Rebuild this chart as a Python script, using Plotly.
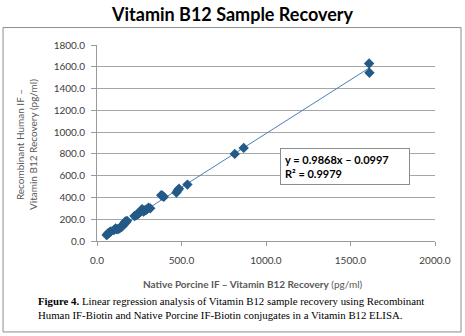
import plotly.graph_objects as go

# Data
native_x = [57, 62, 66, 70, 75, 82, 100, 110, 118, 128, 135, 142, 150, 158, 163, 168, 172, 178,
            222, 230, 238, 245, 252, 258, 262, 268, 275, 282, 290, 298, 305, 315,
            380, 388, 395, 470, 478, 485, 535, 815, 868, 1610, 1612]
recomb_y = [55, 62, 70, 75, 80, 88, 100, 115, 108, 112, 118, 128, 135, 150, 168, 180, 172, 185,
            230, 235, 245, 250, 262, 272, 285, 292, 270, 280, 285, 295, 305, 300,
            420, 415, 405, 445, 465, 480, 518, 800, 855, 1630, 1545]
slope = 0.9868
intercept = -0.0997
r2 = 0.9979
x_ticks = [0, 500, 1000, 1500, 2000]
y_ticks = [0, 200, 400, 600, 800, 1000, 1200, 1400, 1600, 1800]

trend_x = [min(native_x), max(native_x)]
trend_y = [slope * v + intercept for v in trend_x]

FONT = "Lato"
GRAY = "#595959"

fig = go.Figure()
fig.add_trace(go.Scatter(x=trend_x, y=trend_y, mode="lines",
                         line=dict(color="#4A7EBB", width=1), hoverinfo="skip"))
fig.add_trace(go.Scatter(x=native_x, y=recomb_y, mode="markers",
                         marker=dict(symbol="diamond", size=8, color="#235A87",
                                     line=dict(width=0))))

fig.update_layout(
    width=465, height=336,
    margin=dict(l=97, r=30, t=44.5, b=94.5),
    paper_bgcolor="white", plot_bgcolor="white",
    showlegend=False,
    font=dict(family=FONT, size=10, color=GRAY),
    xaxis=dict(range=[0, 2000], tickvals=x_ticks,
               ticktext=[f"{v:.1f}" for v in x_ticks],
               showgrid=False, zeroline=False,
               showline=True, linecolor="#9A9A9A", linewidth=1,
               ticks="outside", ticklen=4, tickcolor="#9A9A9A",
               ticklabelstandoff=6,
               tickfont=dict(family=FONT, size=10, color="#404040")),
    yaxis=dict(range=[0, 1800], tickvals=y_ticks,
               ticktext=[f"{v:.1f}" for v in y_ticks],
               showgrid=True, gridcolor="#A6A6A6", gridwidth=1,
               zeroline=False,
               showline=True, linecolor="#9A9A9A", linewidth=1,
               ticks="outside", ticklen=5, tickcolor="#9A9A9A",
               ticklabelstandoff=4,
               tickfont=dict(family=FONT, size=10, color="#404040")),
)

anns = [
    dict(text="<b>Vitamin B12 Sample Recovery</b>", x=0.4, y=1.157, xref="paper", yref="paper",
         xanchor="center", yanchor="middle", showarrow=False,
         font=dict(family=FONT, size=18, color="black")),
    dict(text="Recombinant Human IF –<br>Vitamin B12 Recovery (pg/ml)", textangle=-90,
         x=-0.207, y=0.49, xref="paper", yref="paper", xanchor="center", yanchor="middle",
         showarrow=False, font=dict(family=FONT, size=10, color=GRAY)),
    dict(text="<b>Native Porcine IF – Vitamin B12 Recovery</b> (pg/ml)",
         x=0.4615, y=-0.221, xref="paper", yref="paper", xanchor="center", yanchor="middle",
         showarrow=False, font=dict(family=FONT, size=10, color=GRAY)),
    dict(text=f"<b>y = {slope}x – {abs(intercept)}<br>R² = {r2}</b>",
         x=0.541, y=0.475, xref="paper", yref="paper", xanchor="left", yanchor="top",
         align="left", showarrow=False, bgcolor="white", bordercolor="#8C8C8C",
         borderwidth=1, borderpad=4, width=120,
         font=dict(family=FONT, size=11, color="black")),
    dict(text="<b>Figure 4.</b> Linear regression analysis of Vitamin B12 sample recovery using Recombinant"
              "<br>Human IF-Biotin and Native Porcine IF-Biotin conjugates in a Vitamin B12 ELISA.",
         x=-0.180, y=-0.266, xref="paper", yref="paper", xanchor="left", yanchor="top",
         align="left", showarrow=False,
         font=dict(family="Liberation Serif", size=10.8, color="black")),
]
fig.update_layout(annotations=anns)

fig.add_shape(type="rect", xref="paper", yref="paper",
              x0=-0.278, x1=1.077, y0=-0.464, y1=1.089,
              line=dict(color="#8C8C8C", width=1), fillcolor="rgba(0,0,0,0)", layer="below")

fig.write_html("out.html")
